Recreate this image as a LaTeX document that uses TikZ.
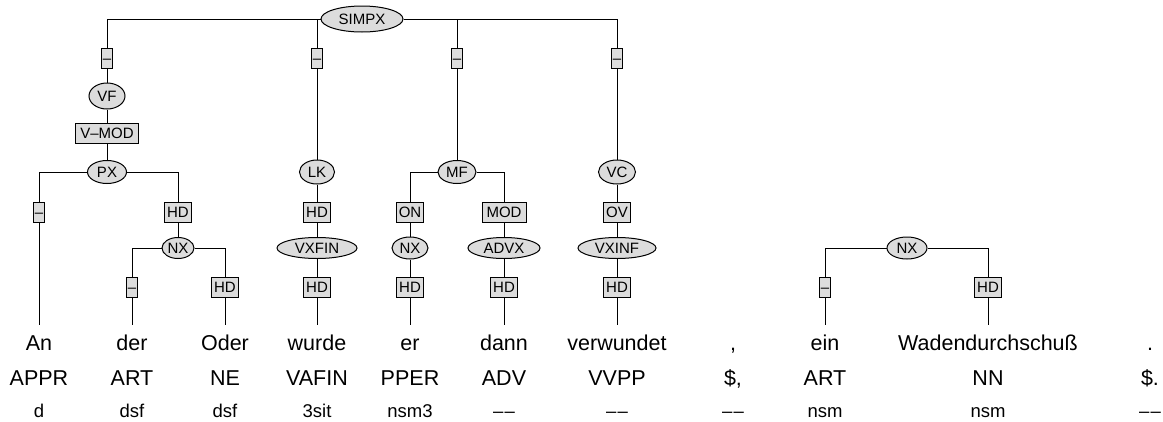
\documentclass[tikz,border=0pt]{standalone}
\usepackage{fontspec}
\setmainfont{Liberation Sans}
\usetikzlibrary{shapes.geometric}
\definecolor{nodefill}{HTML}{DCDCDC}
\newcommand{\ddash}{\textendash\kern1.2pt\textendash}
\tikzset{
  catnode/.style 2 args={ellipse, draw, fill=nodefill, line width=1pt, inner sep=0pt,
    minimum width=#1, minimum height=#2, font=\fontsize{15}{15}\selectfont,
    text height=10.5pt, text depth=0pt},
  labbox/.style={rectangle, draw, fill=nodefill, line width=1pt, inner xsep=2.5pt, inner ysep=0pt,
    minimum height=20, font=\fontsize{15}{15}\selectfont, text height=10.5pt, text depth=0pt},
  dashbox/.style={labbox, inner xsep=1pt, minimum width=10},
  wordtxt/.style={anchor=base, inner xsep=0pt, inner ysep=9pt, text height=16pt, text depth=0pt,
    font=\fontsize{21.5}{21.5}\selectfont},
  postag/.style={anchor=base, inner sep=0pt, font=\fontsize{21.5}{21.5}\selectfont},
  morphtag/.style={anchor=base, inner sep=0pt, font=\fontsize{18.5}{18.5}\selectfont},
  conn/.style={line width=1pt}
}
\begin{document}
\begin{tikzpicture}[x=1pt,y=-1pt]
\useasboundingbox (0,0) rectangle (1163,421);
% words
\node[wordtxt] (w1) at (39,350) {An};
\node[wordtxt] (w2) at (132,350) {der};
\node[wordtxt] (w3) at (225,350) {Oder};
\node[wordtxt] (w4) at (317,350) {wurde};
\node[wordtxt] (w5) at (410,350) {er};
\node[wordtxt] (w6) at (504,350) {dann};
\node[wordtxt] (w7) at (617,350) {verwundet};
\node[wordtxt] (w8) at (733,350) {,};
\node[wordtxt] (w9) at (825,350) {ein};
\node[wordtxt] (w10) at (988,350) {Wadendurchschuß};
\node[wordtxt] (w11) at (1150,350) {.};
% POS
\node[postag] (p1) at (39,385) {APPR};
\node[postag] (p2) at (132,385) {ART};
\node[postag] (p3) at (225,385) {NE};
\node[postag] (p4) at (317,385) {VAFIN};
\node[postag] (p5) at (410,385) {PPER};
\node[postag] (p6) at (504,385) {ADV};
\node[postag] (p7) at (617,385) {VVPP};
\node[postag] (p8) at (733,385) {\$,};
\node[postag] (p9) at (825,385) {ART};
\node[postag] (p10) at (988,385) {NN};
\node[postag] (p11) at (1150,385) {\$.};
% morph
\node[morphtag] (m1) at (39,417) {d};
\node[morphtag] (m2) at (132,417) {dsf};
\node[morphtag] (m3) at (225,417) {dsf};
\node[morphtag] (m4) at (317,417) {3sit};
\node[morphtag] (m5) at (410,417) {nsm3};
\node[morphtag] (m6) at (504,417) {\ddash};
\node[morphtag] (m7) at (617,417) {\ddash};
\node[morphtag] (m8) at (733,417) {\ddash};
\node[morphtag] (m9) at (825,417) {nsm};
\node[morphtag] (m10) at (988,417) {nsm};
\node[morphtag] (m11) at (1150,417) {\ddash};
% tree nodes
\node[catnode={82}{26}] (simpx) at (362,19) {SIMPX};
\node[dashbox] (d1) at (107,58) {\textendash};
\node[dashbox] (d2) at (317,58) {\textendash};
\node[dashbox] (d3) at (457,58) {\textendash};
\node[dashbox] (d4) at (617,58) {\textendash};
\node[catnode={36}{26}] (vf) at (107,96) {VF};
\node[labbox, minimum width=63] (vmod) at (107,133) {V\textendash MOD};
\node[catnode={39}{23}] (px) at (107,172) {PX};
\node[dashbox] (dA) at (39,212) {\textendash};
\node[labbox] (hpx) at (178,212) {HD};
\node[catnode={32}{21}] (nx1) at (178,248) {NX};
\node[dashbox] (dB) at (132,287) {\textendash};
\node[labbox] (hO) at (225,287) {HD};
\node[catnode={35}{24}] (lk) at (317,172) {LK};
\node[labbox] (hlk) at (317,212) {HD};
\node[catnode={80}{21}] (vxfin) at (317,248) {VXFIN};
\node[labbox] (hwu) at (317,287) {HD};
\node[catnode={38}{23}] (mf) at (457,172) {MF};
\node[labbox] (on) at (410,212) {ON};
\node[catnode={36}{22}] (nx2) at (410,248) {NX};
\node[labbox] (her) at (410,287) {HD};
\node[labbox, minimum width=44] (mod) at (504,212) {MOD};
\node[catnode={72}{21}] (advx) at (504,248) {ADVX};
\node[labbox] (hda) at (504,287) {HD};
\node[catnode={37}{24}] (vc) at (617,172) {VC};
\node[labbox] (ov) at (617,212) {OV};
\node[catnode={78}{21}] (vxinf) at (617,248) {VXINF};
\node[labbox] (hvw) at (617,287) {HD};
\node[catnode={40}{22}] (nx3) at (907,248) {NX};
\node[dashbox] (dE) at (825,287) {\textendash};
\node[labbox] (hW) at (988,287) {HD};
% connectors
\draw[conn] (simpx.west) -| (d1.north);
\draw[conn] (simpx.west) -| (d2.north);
\draw[conn] (simpx.east) -| (d3.north);
\draw[conn] (simpx.east) -| (d4.north);
\draw[conn] (d1) -- (vf);
\draw[conn] (vf) -- (vmod);
\draw[conn] (vmod) -- (px);
\draw[conn] (px.west) -| (dA.north);
\draw[conn] (dA.south) -- (w1.north);
\draw[conn] (px.east) -| (hpx.north);
\draw[conn] (hpx) -- (nx1);
\draw[conn] (nx1.west) -| (dB.north);
\draw[conn] (dB.south) -- (w2.north);
\draw[conn] (nx1.east) -| (hO.north);
\draw[conn] (hO.south) -- (w3.north);
\draw[conn] (d2) -- (lk);
\draw[conn] (lk) -- (hlk);
\draw[conn] (hlk) -- (vxfin);
\draw[conn] (vxfin) -- (hwu);
\draw[conn] (hwu.south) -- (w4.north);
\draw[conn] (d3) -- (mf);
\draw[conn] (mf.west) -| (on.north);
\draw[conn] (on) -- (nx2);
\draw[conn] (nx2) -- (her);
\draw[conn] (her.south) -- (w5.north);
\draw[conn] (mf.east) -| (mod.north);
\draw[conn] (mod) -- (advx);
\draw[conn] (advx) -- (hda);
\draw[conn] (hda.south) -- (w6.north);
\draw[conn] (d4) -- (vc);
\draw[conn] (vc) -- (ov);
\draw[conn] (ov) -- (vxinf);
\draw[conn] (vxinf) -- (hvw);
\draw[conn] (hvw.south) -- (w7.north);
\draw[conn] (nx3.west) -| (dE.north);
\draw[conn] (dE.south) -- (w9.north);
\draw[conn] (nx3.east) -| (hW.north);
\draw[conn] (hW.south) -- (w10.north);
\end{tikzpicture}
\end{document}
